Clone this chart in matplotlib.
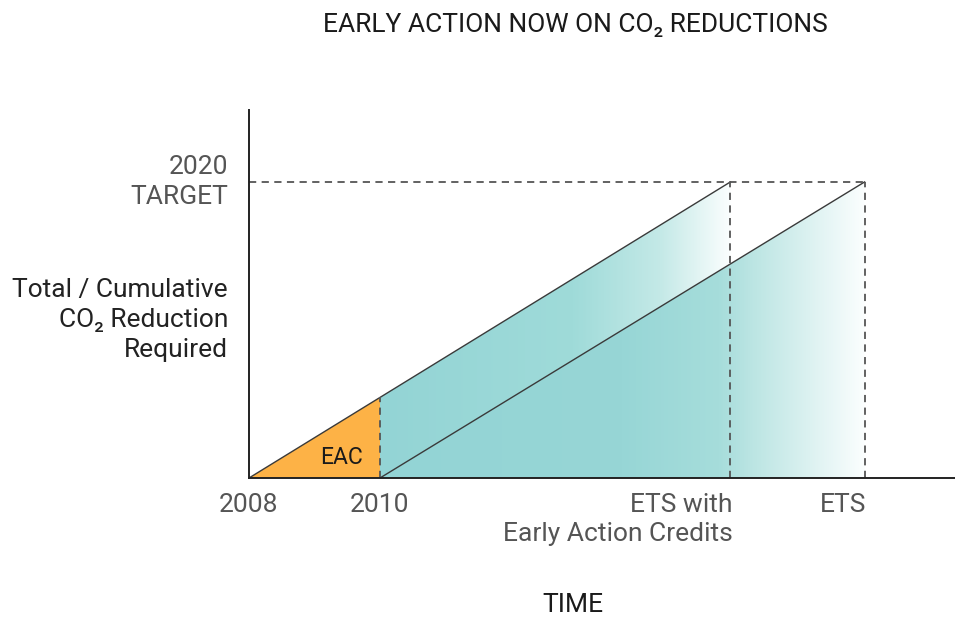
import numpy as np
import matplotlib
matplotlib.use("Agg")
from matplotlib import pyplot as plt
from matplotlib.colors import LinearSegmentedColormap
from matplotlib.patches import Polygon

plt.rcParams["font.family"] = ["Roboto", "DejaVu Sans"]

# time axis in years after 2008 (conceptual chart)
x_start = 0.0
x_eac_end = 2.0
x_ets_eac = 7.35
x_ets = 9.4
target = 1.0
tick_labels = ["2008", "2010", "ETS with\nEarly Action Credits", "ETS"]

teal = "#93d4d5"
orange = "#fdb246"
grey = "#555555"


def line1(x):
    return (x - x_start) / (x_ets_eac - x_start) * target


def line2(x):
    return (x - x_eac_end) / (x_ets - x_eac_end) * target


fig = plt.figure(figsize=(9.55, 6.18), dpi=100)
ax = fig.add_axes([249 / 955, 140 / 618, 706 / 955, 368 / 618])
ax.set_xlim(0, 10.78)
ax.set_ylim(0, 1.243)

# orange early-action triangle
ax.fill([x_start, x_eac_end, x_eac_end], [0, line1(x_eac_end), 0],
        color=orange, lw=0, zorder=2)

# gradient band under line 1 (2010 -> ETS with credits)
cmap_a = LinearSegmentedColormap.from_list(
    "a", [(0, teal), (0.55, "#9fdbd9"), (0.8, "#c4e9e7"), (1.0, "#fbfefe")])
grad = np.linspace(0, 1, 256).reshape(1, -1)
im = ax.imshow(grad, cmap=cmap_a, aspect="auto", zorder=2,
               extent=[x_eac_end, x_ets_eac, 0, target], origin="lower")
poly = Polygon([(x_eac_end, 0), (x_eac_end, line1(x_eac_end)),
                (x_ets_eac, target), (x_ets_eac, 0)], closed=True,
               transform=ax.transData, fc="none", ec="none")
ax.add_patch(poly)
im.set_clip_path(poly)

# gradient region under line 2 (2010 -> ETS)
cmap_b = LinearSegmentedColormap.from_list(
    "b", [(0, teal), (0.5, "#97d6d6"), (0.7, "#a6dddb"), (0.76, "#b9e4e2"),
          (1.0, "#fbfefe")])
im2 = ax.imshow(grad, cmap=cmap_b, aspect="auto", zorder=3,
                extent=[x_eac_end, x_ets, 0, target], origin="lower")
poly2 = Polygon([(x_eac_end, 0), (x_ets, target), (x_ets, 0)], closed=True,
                transform=ax.transData, fc="none", ec="none")
ax.add_patch(poly2)
im2.set_clip_path(poly2)

# diagonal lines
ax.plot([x_start, x_ets_eac], [0, target], color="#3a3a3a", lw=1, zorder=5)
ax.plot([x_eac_end, x_ets], [0, target], color="#3a3a3a", lw=1, zorder=5)

# dashed guide lines
dash = dict(color=grey, lw=1.3, dashes=(4, 3), zorder=6)
ax.plot([x_start, x_ets], [target, target], **dash)
ax.plot([x_eac_end, x_eac_end], [0, line1(x_eac_end)], **dash)
ax.plot([x_ets_eac, x_ets_eac], [0, target], **dash)
ax.plot([x_ets, x_ets], [0, target], **dash)

for s in ["top", "right"]:
    ax.spines[s].set_visible(False)
for s in ["left", "bottom"]:
    ax.spines[s].set_linewidth(1.4)
    ax.spines[s].set_color("#222222")
    ax.spines[s].set_zorder(7)
ax.set_xticks([])
ax.set_yticks([])

fs = 19
tx = ax.get_xaxis_transform()
ax.text(x_start, -0.04, tick_labels[0], transform=tx, ha="center", va="top",
        fontsize=fs, color=grey)
ax.text(x_eac_end, -0.04, tick_labels[1], transform=tx, ha="center", va="top",
        fontsize=fs, color=grey)
ax.text(x_ets_eac + 0.03, -0.04, tick_labels[2], transform=tx, ha="right",
        va="top", fontsize=fs, color=grey, linespacing=1.3)
ax.text(x_ets + 0.03, -0.04, tick_labels[3], transform=tx, ha="right", va="top",
        fontsize=fs, color=grey)

ax.text(1.42, 0.07, "EAC", ha="center", va="center", fontsize=fs - 2.5,
        color="#1a1a1a", zorder=8)

fig.text(228 / 955, 1 - 182 / 618, "2020\nTARGET", ha="right", va="center",
         fontsize=fs, color=grey, linespacing=1.3)
fig.text(228 / 955, 1 - 320 / 618, "Total / Cumulative\nCO\u2082 Reduction\nRequired",
         ha="right", va="center", fontsize=fs, color="#222222", linespacing=1.3)
fig.text(575 / 955, 1 - 25 / 618, "EARLY ACTION NOW ON CO\u2082 REDUCTIONS",
         ha="center", va="center", fontsize=fs, color="#1a1a1a")
fig.text(573 / 955, 1 - 605 / 618, "TIME", ha="center", va="center",
         fontsize=fs, color="#1a1a1a")

fig.savefig("out.png", dpi=100)
